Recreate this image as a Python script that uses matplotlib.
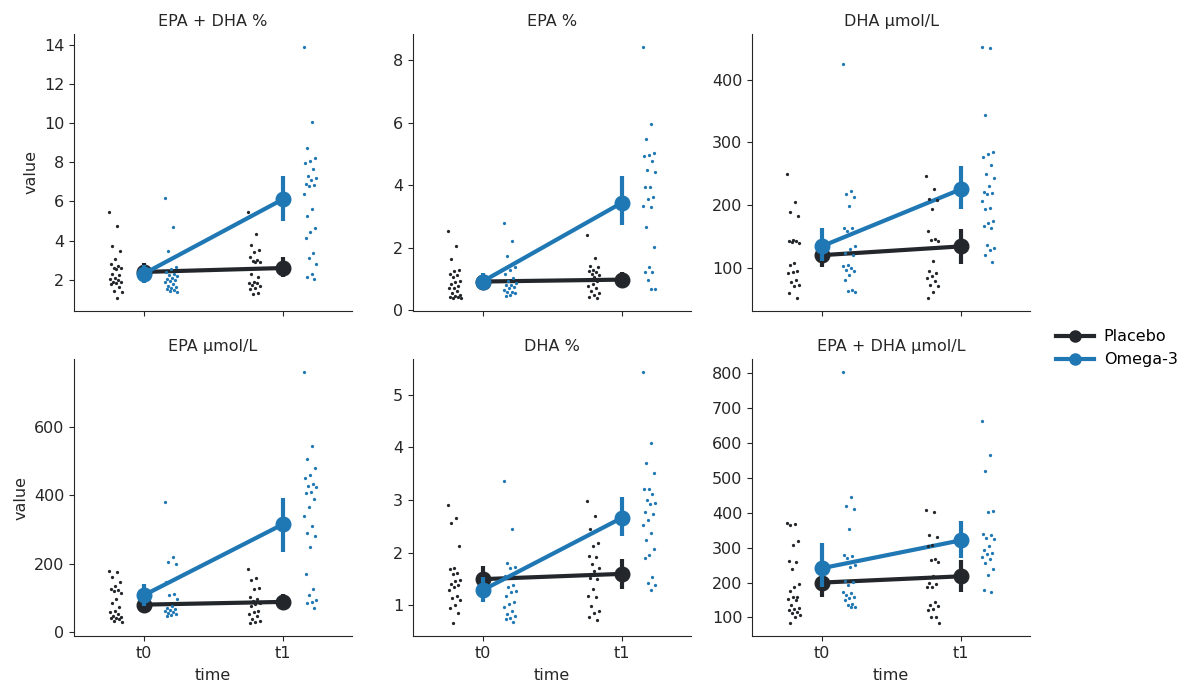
"""
Facet chart of fatty acid levels (strip points + mean with 95% CI) by time and group.
"""
import matplotlib.pyplot as plt
from matplotlib.lines import Line2D
import numpy as np

plt.rcParams['font.family'] = 'DejaVu Sans'
plt.rcParams['font.size'] = 11.5

times = ["t0", "t1"]
groups = ["Placebo", "Omega-3"]
colors = ["#23272b", "#1f77b4"]
titles = ["EPA + DHA %", "EPA %", "DHA µmol/L",
          "EPA µmol/L", "DHA %", "EPA + DHA µmol/L"]

# EPA + DHA %
epa_dha_pct_placebo_t0 = [5.45, 4.72, 3.72, 3.45, 3.05, 2.8, 2.7, 2.62, 2.6, 2.55, 2.3, 2.25,
                          2.1, 2.05, 2.0, 1.9, 1.88, 1.85, 1.8, 1.65, 1.45, 1.4, 1.05]
epa_dha_pct_placebo_t1 = [5.45, 4.35, 3.8, 3.5, 3.4, 3.15, 3.0, 2.95, 2.92, 2.9, 2.3, 2.15,
                          1.9, 1.85, 1.82, 1.75, 1.7, 1.6, 1.55, 1.32, 1.25]
epa_dha_pct_omega_t0 = [6.15, 4.68, 3.45, 2.65, 2.55, 2.4, 2.3, 2.25, 2.2, 2.1, 2.05, 2.0,
                        1.95, 1.9, 1.8, 1.7, 1.65, 1.6, 1.55, 1.5, 1.45, 1.4]
epa_dha_pct_omega_t1 = [13.9, 10.05, 8.75, 8.2, 8.05, 7.95, 7.65, 7.3, 7.2, 7.1, 6.9, 6.85,
                        6.8, 6.4, 5.6, 5.25, 4.65, 4.45, 4.15, 3.35, 3.1, 2.8, 2.3, 2.15, 2.05]

# EPA %
epa_pct_placebo_t0 = [2.55, 2.05, 1.63, 1.3, 1.25, 1.15, 1.12, 1.05, 0.95, 0.9, 0.85, 0.78,
                      0.72, 0.7, 0.62, 0.55, 0.5, 0.47, 0.43, 0.42, 0.4, 0.38]
epa_pct_placebo_t1 = [2.42, 1.67, 1.42, 1.37, 1.3, 1.27, 1.22, 1.17, 1.12, 1.06, 1.0, 0.95,
                      0.85, 0.78, 0.72, 0.62, 0.55, 0.5, 0.43, 0.4]
epa_pct_omega_t0 = [2.78, 2.22, 1.75, 1.37, 1.3, 1.15, 1.02, 0.95, 0.88, 0.82, 0.8, 0.75,
                    0.7, 0.65, 0.6, 0.58, 0.55, 0.5, 0.47]
epa_pct_omega_t1 = [8.43, 5.94, 5.49, 5.04, 4.95, 4.93, 4.77, 4.49, 4.42, 3.94, 3.93, 3.61,
                    3.57, 3.33, 3.3, 2.67, 2.03, 1.39, 1.24, 1.21, 0.97, 0.68, 0.67]

# DHA µmol/L
dha_umol_placebo_t0 = [249, 205, 189, 182, 145, 143, 142, 141, 139, 107, 104, 94, 93, 92,
                       80, 77, 73, 71, 60, 51]
dha_umol_placebo_t1 = [246, 225, 210, 208, 193, 158, 146, 144, 143, 110, 95, 91, 86, 83,
                       78, 73, 71, 61, 51]
dha_umol_omega_t0 = [425, 223, 217, 213, 199, 164, 163, 159, 134, 130, 123, 120, 104, 102,
                     99, 96, 95, 89, 80, 64, 63, 62]
dha_umol_omega_t1 = [453, 451, 344, 284, 281, 276, 264, 249, 244, 230, 221, 219, 218, 207,
                     195, 193, 174, 171, 166, 164, 136, 132, 128, 121, 109]

# EPA µmol/L
epa_umol_placebo_t0 = [179, 176, 162, 147, 135, 127, 123, 120, 115, 98, 86, 73, 62, 57, 52,
                       47, 45, 42, 40, 38, 32, 29]
epa_umol_placebo_t1 = [184, 157, 153, 130, 125, 101, 98, 91, 86, 81, 76, 62, 57, 52, 47,
                       37, 32, 29, 25]
epa_umol_omega_t0 = [380, 221, 204, 199, 150, 145, 112, 108, 96, 76, 70, 68, 65, 62, 59,
                     55, 52, 49, 47]
epa_umol_omega_t1 = [763, 544, 507, 480, 460, 450, 434, 429, 424, 411, 407, 390, 365, 339,
                     311, 290, 280, 248, 169, 127, 108, 94, 88, 84, 69]

# DHA %
dha_pct_placebo_t0 = [2.91, 2.66, 2.56, 2.13, 1.71, 1.69, 1.62, 1.59, 1.48, 1.46, 1.4, 1.38,
                      1.36, 1.3, 1.18, 1.15, 1.1, 1.0, 0.96, 0.86, 0.66]
dha_pct_placebo_t1 = [2.99, 2.69, 2.46, 2.19, 2.12, 1.94, 1.93, 1.78, 1.72, 1.65, 1.53, 1.5,
                      1.32, 1.18, 1.17, 0.99, 0.89, 0.85, 0.78, 0.72]
dha_pct_omega_t0 = [3.37, 2.45, 1.8, 1.74, 1.72, 1.56, 1.38, 1.36, 1.27, 1.25, 1.18, 1.06,
                    1.02, 0.97, 0.89, 0.83, 0.8, 0.77, 0.75, 0.68]
dha_pct_omega_t1 = [5.44, 4.09, 3.7, 3.51, 3.22, 3.21, 3.11, 3.0, 2.94, 2.92, 2.78, 2.73,
                    2.63, 2.52, 2.38, 2.24, 2.08, 1.95, 1.91, 1.55, 1.43, 1.38, 1.29]

# EPA + DHA µmol/L
epa_dha_umol_placebo_t0 = [371, 368, 366, 318, 308, 263, 260, 238, 196, 186, 177, 160, 158,
                           152, 150, 136, 126, 123, 121, 116, 112, 107, 102, 83]
epa_dha_umol_placebo_t1 = [407, 402, 337, 330, 308, 305, 267, 265, 260, 219, 200, 196, 188,
                           186, 145, 136, 133, 123, 121, 102, 100, 83]
epa_dha_umol_omega_t0 = [805, 446, 421, 411, 354, 280, 275, 270, 251, 244, 206, 203, 193,
                         174, 169, 164, 160, 155, 150, 140, 136, 131, 129]
epa_dha_umol_omega_t1 = [664, 565, 520, 404, 402, 340, 337, 328, 325, 304, 294, 286, 282,
                         273, 267, 257, 238, 222, 179, 174]

# means and 95% CI per panel: [t0, t1]
placebo_mean = [[2.4, 2.6], [0.92, 0.98], [120, 134], [80, 88], [1.5, 1.6], [200, 218]]
placebo_lo = [[2.05, 2.14], [0.74, 0.77], [101, 106], [62, 69], [1.25, 1.32], [160, 173]]
placebo_hi = [[2.85, 3.15], [1.12, 1.22], [141, 162], [100, 110], [1.75, 1.89], [243, 265]]
omega_mean = [[2.3, 6.1], [0.92, 3.43], [134, 225], [107, 315], [1.29, 2.66], [241, 321]]
omega_lo = [[1.85, 5.0], [0.72, 2.72], [110, 193], [76, 235], [1.06, 2.31], [188, 270]]
omega_hi = [[2.75, 7.3], [1.18, 4.28], [163, 263], [141, 392], [1.55, 3.05], [313, 378]]

strips = [
    [[epa_dha_pct_placebo_t0, epa_dha_pct_placebo_t1], [epa_dha_pct_omega_t0, epa_dha_pct_omega_t1]],
    [[epa_pct_placebo_t0, epa_pct_placebo_t1], [epa_pct_omega_t0, epa_pct_omega_t1]],
    [[dha_umol_placebo_t0, dha_umol_placebo_t1], [dha_umol_omega_t0, dha_umol_omega_t1]],
    [[epa_umol_placebo_t0, epa_umol_placebo_t1], [epa_umol_omega_t0, epa_umol_omega_t1]],
    [[dha_pct_placebo_t0, dha_pct_placebo_t1], [dha_pct_omega_t0, dha_pct_omega_t1]],
    [[epa_dha_umol_placebo_t0, epa_dha_umol_placebo_t1], [epa_dha_umol_omega_t0, epa_dha_umol_omega_t1]],
]
means = [placebo_mean, omega_mean]
lows = [placebo_lo, omega_lo]
highs = [placebo_hi, omega_hi]

W, H = 1195, 688
fig = plt.figure(figsize=(W / 100, H / 100), dpi=100)
lefts = [74, 413, 752]
bottoms = [311, 636]
aw, ah = 278, 277

dodge = [-0.2, 0.2]
text_color = "#262626"

for k in range(6):
    row, col = divmod(k, 3)
    ax = fig.add_axes([lefts[col] / W, 1 - bottoms[row] / H, aw / W, ah / H])

    # mean + CI (pointplot style)
    for g in range(2):
        ax.vlines(range(2), lows[g][k], highs[g][k], color=colors[g], lw=3, zorder=2)
        ax.plot(range(2), means[g][k], color=colors[g], lw=3, marker="o", ms=10.5, zorder=2)

    # strip points, deterministic jitter
    for g in range(2):
        for i in range(2):
            vals = np.asarray(strips[k][g][i])
            jit = ((np.arange(len(vals)) * 0.618) % 1 - 0.5) * 0.09
            ax.scatter(i + dodge[g] + jit, vals, s=5.5, color=colors[g], lw=0, zorder=3)

    ax.set_xlim(-0.5, 1.5)
    ax.set_xticks([0, 1])
    ax.set_title(titles[k], color=text_color, fontsize=11.5)
    for s in ["top", "right"]:
        ax.spines[s].set_visible(False)
    for s in ["left", "bottom"]:
        ax.spines[s].set_color(text_color)
    ax.tick_params(colors=text_color, length=3.5)
    if row == 1:
        ax.set_xticklabels(times)
        ax.set_xlabel("time", color=text_color, labelpad=5)
    else:
        ax.set_xticklabels([])
    if col == 0:
        ax.set_ylabel("value", color=text_color)

handles = [Line2D([], [], color=c, lw=3, marker="o", ms=8) for c in colors]
fig.legend(handles, groups, loc="center left", bbox_to_anchor=(0.8716, 0.4935),
           frameon=False, handlelength=2.4, handletextpad=0.6, fontsize=11.5)

plt.savefig("out.png", dpi=100)
